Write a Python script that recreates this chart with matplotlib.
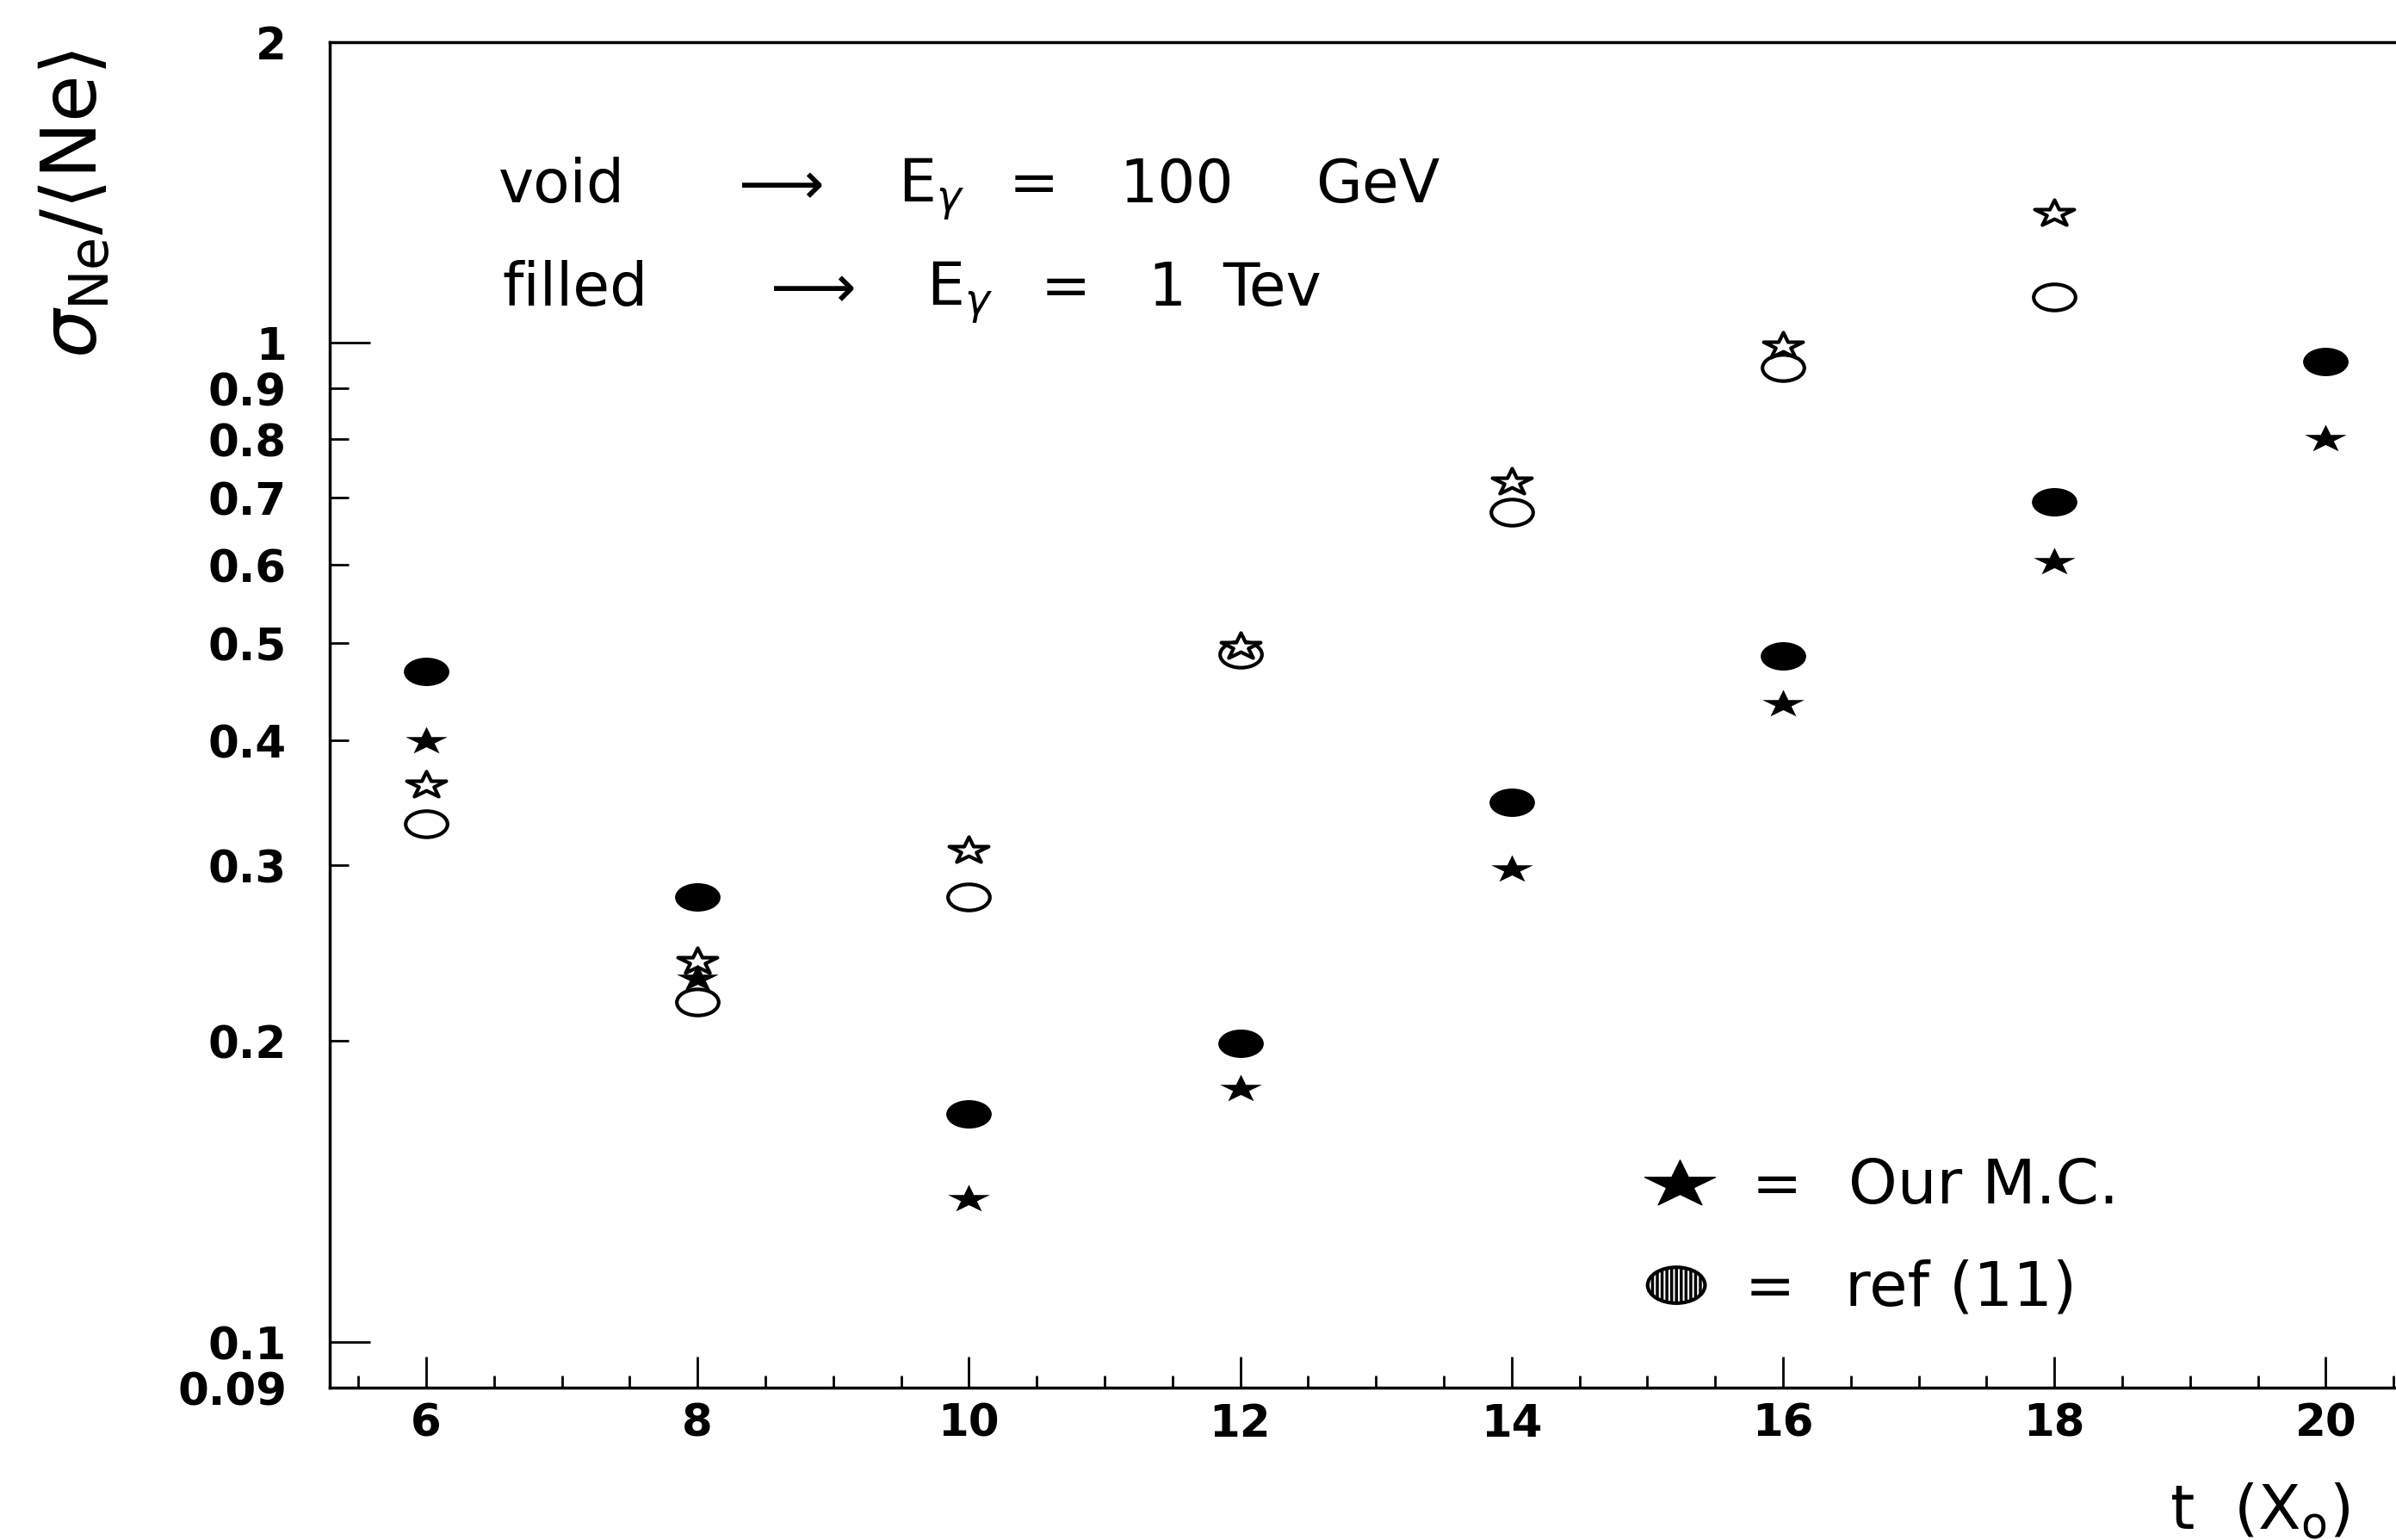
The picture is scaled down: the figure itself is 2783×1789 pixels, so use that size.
import matplotlib
matplotlib.use("Agg")
import matplotlib.pyplot as plt
from matplotlib.path import Path
from matplotlib.transforms import Affine2D
from matplotlib.ticker import FixedLocator, FixedFormatter, MultipleLocator

plt.rcParams["font.family"] = "DejaVu Sans"
plt.rcParams["mathtext.fontset"] = "dejavusans"
plt.rcParams["hatch.linewidth"] = 2.5

# shower depth t in radiation lengths
t_filled = [6, 8, 10, 12, 14, 16, 18, 20]
t_void = [6, 8, 10, 12, 14, 16, 18]

# sigma_Ne / <Ne>;  filled -> E = 1 TeV, void -> E = 100 GeV
mc_1tev = [0.399, 0.231, 0.139, 0.179, 0.297, 0.435, 0.603, 0.800]
ref_1tev = [0.469, 0.279, 0.169, 0.199, 0.347, 0.486, 0.693, 0.958]
mc_100gev = [0.361, 0.240, 0.310, 0.496, 0.725, 0.993, 1.347]
ref_100gev = [0.330, 0.219, 0.279, 0.488, 0.677, 0.944, 1.110]

y_major = [0.1, 1]
y_major_labels = ["0.1", "1"]
y_minor = [0.09, 0.2, 0.3, 0.4, 0.5, 0.6, 0.7, 0.8, 0.9, 2]
y_minor_labels = ["0.09", "0.2", "0.3", "0.4", "0.5", "0.6", "0.7", "0.8", "0.9", "2"]

W, H = 2783, 1790

# wide star and flat blob, like the old plotter symbols
star = Path.unit_regular_star(5, 0.381966).transformed(Affine2D().scale(1.5, 1.0))
blob = Path.unit_circle().transformed(Affine2D().scale(1.6, 1.0))

fig = plt.figure(figsize=(W / 100, H / 100), dpi=100)
ax = fig.add_axes([383 / W, 1 - 1613 / H, 2476 / W, (1613 - 49.5) / H])
ax.set_yscale("log")
ax.set_xlim(5.29, 21.0)
ax.set_ylim(0.09, 2)

ax.plot(t_void, ref_100gev, ls="none", marker=blob, ms=35, mfc="white",
        mec="black", mew=3)
ax.plot(t_void, mc_100gev, ls="none", marker=star, ms=33, mfc="white",
        mec="black", mew=3)
ax.plot(t_filled, ref_1tev, ls="none", marker=blob, ms=38, color="black", mew=0)
ax.plot(t_filled, mc_1tev, ls="none", marker=star, ms=35, color="black", mew=0)

for side in ["left", "bottom", "top", "right"]:
    ax.spines[side].set_linewidth(2.5)

ax.xaxis.set_major_locator(MultipleLocator(2))
ax.xaxis.set_minor_locator(MultipleLocator(0.5))
ax.tick_params(axis="x", which="major", direction="in", length=26, width=2,
               pad=12, labelsize=37)
ax.tick_params(axis="x", which="minor", direction="in", length=10, width=2)

ax.yaxis.set_major_locator(FixedLocator(y_major))
ax.yaxis.set_major_formatter(FixedFormatter(y_major_labels))
ax.yaxis.set_minor_locator(FixedLocator(y_minor))
ax.yaxis.set_minor_formatter(FixedFormatter(y_minor_labels))
ax.tick_params(axis="y", which="major", direction="in", length=34, width=2,
               pad=36, labelsize=37)
ax.tick_params(axis="y", which="minor", direction="in", length=16, width=2,
               pad=36, labelsize=37)

for lab in ax.get_xticklabels(which="both") + ax.get_yticklabels(which="both"):
    lab.set_fontweight("bold")


def put(x, y, s, size=50):
    fig.text(x / W, 1 - y / H, s, fontsize=size, ha="left", va="baseline")


# energy key
for x, s in [(579, "void"), (844, r"$\longrightarrow$"), (1043, r"E$_\gamma$"),
             (1172, "="), (1300, "100"), (1528, "GeV")]:
    put(x, 235, s)
for x, s in [(583, "filled"), (881, r"$\longrightarrow$"), (1076, r"E$_\gamma$"),
             (1209, "="), (1333, "1"), (1420, "Tev")]:
    put(x, 355, s)

# symbol key
ax.plot([0.6333], [0.151], transform=ax.transAxes, ls="none", marker=star,
        ms=59, color="black", clip_on=False)
ax.scatter([0.6317], [0.0761], transform=ax.transAxes, marker=blob, s=48 ** 2,
           facecolor="white", edgecolor="black", linewidth=3, hatch="|||")
put(2035, 1398, "=")
put(2147, 1398, "Our M.C.", size=52)
put(2027, 1517, "=")
put(2143, 1517, "ref (11)", size=52)

fig.text(88 / W, 1 - 237 / H, r"$\sigma_{\mathrm{Ne}}/\langle\mathrm{Ne}\rangle$",
         fontsize=64, rotation=90, ha="center", va="center")
put(2520, 1776, r"t  (X$_{\mathrm{o}}$)", size=52)

fig.savefig("out.png", dpi=100)
